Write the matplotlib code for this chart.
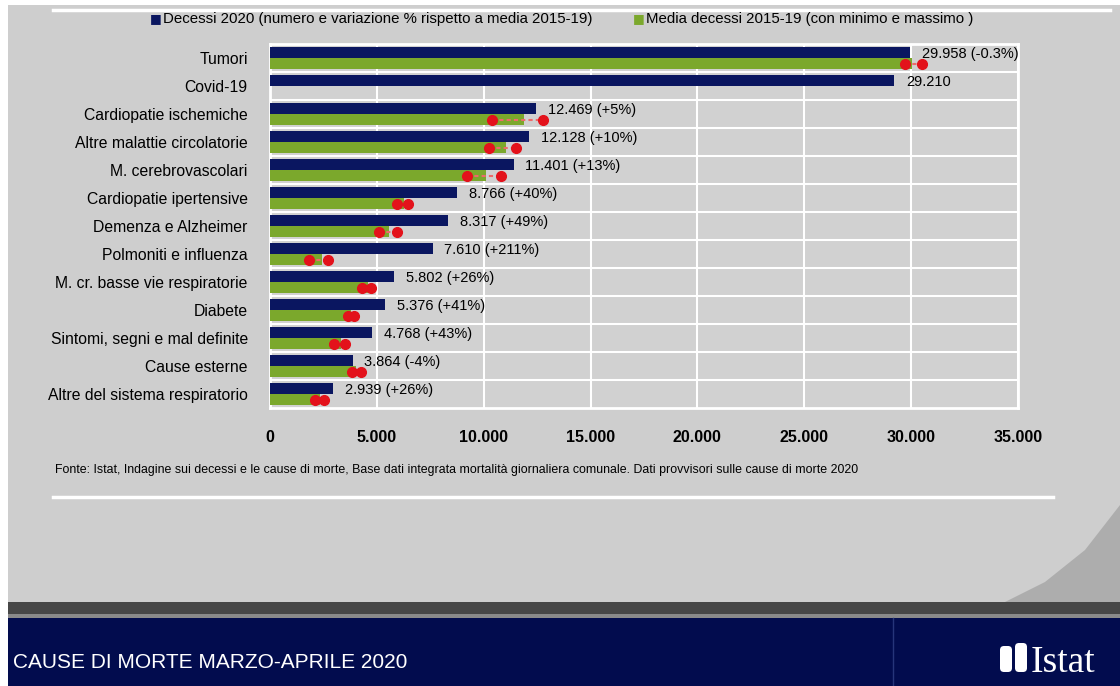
import matplotlib.pyplot as plt
import matplotlib.patches as mpatches
import numpy as np

plt.rcParams['font.family'] = ['Liberation Sans Narrow', 'Liberation Sans', 'DejaVu Sans']

# dati (decessi marzo-aprile)
cause = ["Tumori", "Covid-19", "Cardiopatie ischemiche", "Altre malattie circolatorie",
         "M. cerebrovascolari", "Cardiopatie ipertensive", "Demenza e Alzheimer",
         "Polmoniti e influenza", "M. cr. basse vie respiratorie", "Diabete",
         "Sintomi, segni e mal definite", "Cause esterne", "Altre del sistema respiratorio"]
decessi_2020 = [29958, 29210, 12469, 12128, 11401, 8766, 8317, 7610, 5802, 5376, 4768, 3864, 2939]
variazione = ["-0.3%", None, "+5%", "+10%", "+13%", "+40%", "+49%", "+211%", "+26%", "+41%",
              "+43%", "-4%", "+26%"]
media_1519 = [30050, np.nan, 11875, 11025, 10090, 6260, 5580, 2450, 4600, 3810, 3330, 4025, 2330]
minimo_1519 = [29710, np.nan, 10390, 10250, 9220, 5940, 5100, 1830, 4300, 3650, 3000, 3840, 2110]
massimo_1519 = [30510, np.nan, 12780, 11510, 10810, 6460, 5940, 2710, 4730, 3930, 3510, 4260, 2530]

NAVY = "#0a1660"
GREEN = "#7ba82c"
RED = "#e3121b"
BG = "#cecece"

W, H = 1120, 686
fig = plt.figure(figsize=(W / 100, H / 100), dpi=100)
fig.patch.set_facecolor("white")

# sfondo e cornice in coordinate pixel
deco = fig.add_axes([0, 0, 1, 1], zorder=0)
deco.set_xlim(0, W)
deco.set_ylim(H, 0)
deco.axis("off")
deco.add_patch(mpatches.Rectangle((8, 5), W - 8, 600, color=BG, lw=0))
deco.add_patch(mpatches.Polygon([(1120, 505), (1085, 550), (1045, 582), (1003, 603), (1120, 603)],
                                closed=True, color="#adadad", lw=0))
deco.plot([53, 1110], [10, 10], color="white", lw=2.5)
deco.plot([53, 1053], [497, 497], color="white", lw=2.5)
deco.add_patch(mpatches.Rectangle((8, 602), W - 8, 12, color="#474747", lw=0))
deco.add_patch(mpatches.Rectangle((8, 614), W - 8, 4, color="#8a8a8a", lw=0))
deco.add_patch(mpatches.Rectangle((8, 618), W - 8, H - 618, color="#020c4e", lw=0))
deco.plot([893, 893], [618, H], color="#26357a", lw=1)
deco.text(13, 663, "CAUSE DI MORTE MARZO-APRILE 2020", color="white", fontsize=15,
          va="center", ha="left")
# logo Istat
deco.add_patch(mpatches.FancyBboxPatch((1000, 646), 12, 26, boxstyle="round,pad=0,rounding_size=4",
                                       color="white", lw=0))
deco.add_patch(mpatches.FancyBboxPatch((1015, 643), 12, 29, boxstyle="round,pad=0,rounding_size=4",
                                       color="white", lw=0))
deco.text(1031, 672, "Istat", color="white", fontsize=27, family="Liberation Serif",
          va="baseline", ha="left")

# legenda
deco.text(150, 19, "■", color=NAVY, fontsize=9, va="center", family="DejaVu Sans")
deco.text(163, 19, "Decessi 2020 (numero e variazione % rispetto a media 2015-19)",
          fontsize=10.8, va="center")
deco.text(633, 19, "■", color=GREEN, fontsize=9, va="center", family="DejaVu Sans")
deco.text(646, 19, "Media decessi 2015-19 (con minimo e massimo )", fontsize=10.8, va="center")

deco.text(55, 470, "Fonte: Istat, Indagine sui decessi e le cause di morte, Base dati integrata "
          "mortalità giornaliera comunale. Dati provvisori sulle cause di morte 2020",
          fontsize=8.9, va="center")

# grafico
ax = fig.add_axes([270 / W, 1 - 408 / H, 748 / W, 364 / H], zorder=1)
ax.set_facecolor("#d1d1d1")
y = np.arange(len(cause))
h = 0.38
ax.barh(y - 0.2, decessi_2020, height=h, color=NAVY, zorder=3)
ax.barh(y + 0.2, media_1519, height=h, color=GREEN, zorder=3)
for yi, lo, hi in zip(y, minimo_1519, massimo_1519):
    if np.isnan(lo):
        continue
    ax.plot([lo, hi], [yi + 0.2, yi + 0.2], color="#ee6a6a", lw=1.5, ls=(0, (2, 1.5)), zorder=4)
    ax.plot([lo, hi], [yi + 0.2, yi + 0.2], "o", color=RED, ms=7, zorder=5)

for yi, v, p in zip(y, decessi_2020, variazione):
    lab = f"{v:,}".replace(",", ".")
    if p:
        lab += f" ({p})"
    ax.text(v + 550, yi - 0.15, lab, fontsize=10.5, va="center", ha="left", zorder=6)

ax.set_xlim(0, 35000)
ax.set_ylim(len(cause) - 0.5, -0.5)
ax.set_xticks(np.arange(0, 35001, 5000))
ax.set_xticklabels([f"{t:,}".replace(",", ".") for t in range(0, 35001, 5000)],
                   fontsize=11.5, fontweight="bold")
ax.set_yticks(y)
ax.set_yticklabels(cause, fontsize=11.3)
ax.set_yticks(np.arange(0.5, len(cause) - 1, 1), minor=True)
ax.tick_params(axis="both", length=0, which="both")
ax.tick_params(axis="x", pad=16)
ax.tick_params(axis="y", pad=16)
ax.grid(axis="x", color="white", lw=1.5, zorder=1)
ax.grid(axis="y", which="minor", color="white", lw=1.5, zorder=1)
for s in ax.spines.values():
    s.set_color("white")
    s.set_linewidth(2)

fig.savefig("out.png", dpi=100, facecolor=fig.get_facecolor())
